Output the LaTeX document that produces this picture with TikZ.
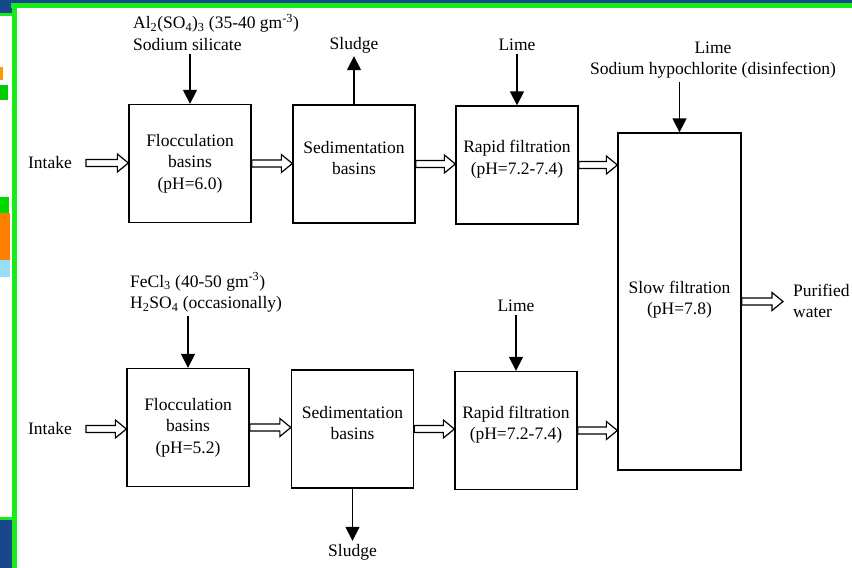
\documentclass[tikz,border=0pt]{standalone}
\usepackage{fontspec}
\setmainfont{Liberation Serif}
\usetikzlibrary{arrows.meta,calc}
\definecolor{frameblue}{RGB}{24,72,140}
\definecolor{framegreen}{RGB}{25,235,25}
\tikzset{
  box/.style={draw, line width=1.3pt, minimum width=122pt, minimum height=118pt},
  txt/.style={align=center, inner sep=3pt},
  feed/.style={line width=1.3pt, -{Triangle[length=14pt,width=14pt]}},
  pipe/.style={line width=1.2pt, to path={
      let \p1=(\tikztostart), \p2=(\tikztotarget) in
      (\x1,\y1+3.5pt) -- (\x2-11pt,\y1+3.5pt) -- (\x2-11pt,\y1+9pt) -- (\x2,\y1)
      -- (\x2-11pt,\y1-9pt) -- (\x2-11pt,\y1-3.5pt) -- (\x1,\y1-3.5pt) -- cycle}}
}
\begin{document}
\begin{tikzpicture}[x=1pt,y=-1pt,font=\fontsize{17.5}{21.5}\selectfont]
  \useasboundingbox (0,0) rectangle (852,568);
  % screen frame round the figure
  \fill[frameblue] (0,0) rectangle (852,3);
  \fill[frameblue] (0,0) rectangle (12,13);
  \fill[frameblue] (0,520) rectangle (12,568);
  \fill[framegreen] (11,3) rectangle (852,8);
  \fill[framegreen] (0,13) rectangle (12,16);
  \fill[framegreen] (0,517) rectangle (12,520);
  \fill[framegreen] (12,3) rectangle (17,568);
  \fill[orange!80!yellow] (0,67) rectangle (3,80);
  \fill[green!80!black] (0,85) rectangle (8,100);
  \fill[green!85!black] (0,197) rectangle (9,213);
  \fill[orange] (0,213) rectangle (10,260);
  \fill[cyan!40] (0,260) rectangle (10,277);

  % basins and filters
  \node[box, label={[txt]center:{Flocculation\\basins\\(pH=6.0)}}] (fl1) at (190,163.5) {};
  \node[box, label={[txt,yshift=6pt]center:{Sedimentation\\basins}}] (sd1) at (354,164) {};
  \node[box, label={[txt,yshift=6pt]center:{Rapid filtration\\(pH=7.2-7.4)}}] (rf1) at (517,165) {};
  \node[box, label={[txt]center:{Flocculation\\basins\\(pH=5.2)}}] (fl2) at (188,427.5) {};
  \node[box, label={[txt,yshift=6pt]center:{Sedimentation\\basins}}] (sd2) at (352.5,429) {};
  \node[box, label={[txt,yshift=6pt]center:{Rapid filtration\\(pH=7.2-7.4)}}] (rf2) at (516,430.5) {};
  \node[box, minimum width=123pt, minimum height=337pt,
        label={[txt,yshift=2pt]center:{Slow filtration\\(pH=7.8)}}] (sl) at (679.5,301.5) {};

  % inputs and outputs
  \node[txt, inner xsep=14pt] (in1) at (50,163) {Intake};
  \node[txt, inner xsep=14pt] (in2) at (50,429) {Intake};
  \node[txt, anchor=west, align=left] (al) at (130,32.5)
    {Al\textsubscript{2}(SO\textsubscript{4})\textsubscript{3} (35-40 gm\textsuperscript{-3})\\Sodium silicate};
  \node[txt, anchor=west, align=left] (fe) at (127,292.5)
    {FeCl\textsubscript{3} (40-50 gm\textsuperscript{-3})\\H\textsubscript{2}SO\textsubscript{4} (occasionally)};
  \node[txt] (sg1) at (354,45) {Sludge};
  \node[txt] (sg2) at (352.5,552) {Sludge};
  \node[txt] (lm1) at (517,45) {Lime};
  \node[txt] (lm2) at (516,306) {Lime};
  \node[txt] (hy) at (713,60) {Lime\\Sodium hypochlorite (disinfection)};
  \node[txt, anchor=west, align=left, inner xsep=10pt] (pw) at (783,301) {Purified\\water};

  \draw[feed] (fl1.north |- al.south) -- (fl1.north);
  \draw[feed] (fl2.north |- fe.south) -- (fl2.north);
  \draw[feed] (sd1.north) -- (sg1.south);
  \draw[feed] (sd2.south) -- (sg2.north);
  \draw[feed] (lm1) -- (rf1.north);
  \draw[feed] (lm2) -- (rf2.north);
  \draw[feed] (sl.north |- hy.south) -- (sl.north);

  \foreach \a/\b in {in1/fl1,fl1/sd1,sd1/rf1,rf1/sl,in2/fl2,fl2/sd2,sd2/rf2,rf2/sl,sl/pw}
    \draw[pipe] (\a.east) to (\b.west);
\end{tikzpicture}
\end{document}
